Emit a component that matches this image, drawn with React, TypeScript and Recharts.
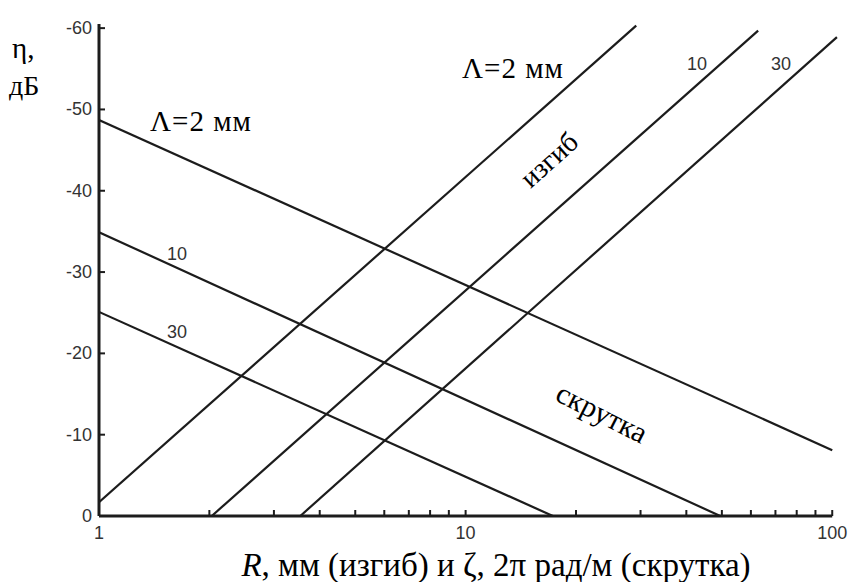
import React from "react";
import { LineChart, Line, XAxis, YAxis, ReferenceLine } from "recharts";

// Torsion (скрутка) lines: loss falls with twist rate, one per beat length Λ
const twistL2 = [{ x: 1, y: -48.7 }, { x: 100, y: -8.1 }];
const twistL10 = [{ x: 1, y: -34.9 }, { x: 49.5, y: 0 }];
const twistL30 = [{ x: 1, y: -25.1 }, { x: 17.3, y: 0 }];

// Bend (изгиб) lines: loss rises with bend radius
const bendL2 = [{ x: 1, y: -1.7 }, { x: 29.2, y: -60.3 }];
const bendL10 = [{ x: 2.03, y: 0 }, { x: 62.8, y: -59.7 }];
const bendL30 = [{ x: 3.54, y: 0 }, { x: 103, y: -58.9 }];

const X_TICKS = [1, 2, 3, 4, 5, 6, 7, 8, 9, 10, 20, 30, 40, 50, 60, 70, 80, 90, 100];
const X_LABELED = [1, 10, 100];
const Y_TICKS = [0, -10, -20, -30, -40, -50, -60];

const INK = "#1c1c1c";
const TICK_FONT = "'Liberation Sans', 'DejaVu Sans', sans-serif";
const SERIF = "'Liberation Serif', 'DejaVu Serif', serif";

function YTick({ x, y, payload }: any) {
  return (
    <g>
      <line x1={x} x2={x + 6} y1={y} y2={y} stroke={INK} strokeWidth={2} />
      <text x={x - 7} y={y} textAnchor="end" dominantBaseline="central" fontFamily={TICK_FONT} fontSize={18} fill="#333">
        {payload.value}
      </text>
    </g>
  );
}

function XTick({ x, y, payload }: any) {
  const labeled = X_LABELED.includes(payload.value);
  return (
    <g>
      <line x1={x} x2={x} y1={y} y2={y - 6} stroke={INK} strokeWidth={2} />
      {labeled && (
        <text x={x} y={y + 23} textAnchor="middle" fontFamily={TICK_FONT} fontSize={18} fill="#333">
          {payload.value}
        </text>
      )}
    </g>
  );
}

const lineProps = {
  type: "linear" as const,
  dataKey: "y",
  stroke: INK,
  strokeWidth: 2.2,
  dot: false,
  activeDot: false,
  isAnimationActive: false,
};

function Txt({ left, top, size, children, rotate = 0, style = {} }: any) {
  return (
    <div
      style={{
        position: "absolute",
        left,
        top,
        fontFamily: SERIF,
        fontSize: size,
        lineHeight: 1,
        whiteSpace: "nowrap",
        color: "#000",
        transform: rotate ? `rotate(${rotate}deg)` : undefined,
        transformOrigin: "center",
        ...style,
      }}
    >
      {children}
    </div>
  );
}

function SmallTxt({ left, top, children }: any) {
  return (
    <div style={{ position: "absolute", left, top, fontFamily: TICK_FONT, fontSize: 18, lineHeight: 1, color: "#333" }}>
      {children}
    </div>
  );
}

export default function App() {
  return (
    <div style={{ position: "absolute", left: 0, top: 0, width: 850, height: 582, background: "#fff", overflow: "hidden" }}>
      <LineChart width={850} height={582} margin={{ top: 20, right: 10, bottom: 36, left: 0 }}>
        <XAxis
          type="number"
          dataKey="x"
          scale="log"
          domain={[1, 105]}
          ticks={X_TICKS}
          interval={0}
          allowDataOverflow
          axisLine={false}
          tickLine={false}
          tickSize={0}
          tickMargin={0}
          height={30}
          tick={<XTick />}
        />
        <YAxis
          type="number"
          domain={[-61, 0]}
          reversed
          ticks={Y_TICKS}
          interval={0}
          allowDataOverflow
          axisLine={false}
          tickLine={false}
          tickSize={0}
          tickMargin={0}
          width={99}
          tick={<YTick />}
        />
        <ReferenceLine segment={[{ x: 1, y: 0 }, { x: 100, y: 0 }]} stroke={INK} strokeWidth={3} ifOverflow="visible" />
        <ReferenceLine segment={[{ x: 1, y: 0 }, { x: 1, y: -60.5 }]} stroke={INK} strokeWidth={3} ifOverflow="visible" />
        <Line {...lineProps} data={twistL2} name="скрутка Λ=2" />
        <Line {...lineProps} data={twistL10} name="скрутка Λ=10" />
        <Line {...lineProps} data={twistL30} name="скрутка Λ=30" />
        <Line {...lineProps} data={bendL2} name="изгиб Λ=2" />
        <Line {...lineProps} data={bendL10} name="изгиб Λ=10" />
        <Line {...lineProps} data={bendL30} name="изгиб Λ=30" />
      </LineChart>

      <Txt left={12} top={34} size={29}>η,</Txt>
      <Txt left={9} top={72} size={28}>дБ</Txt>
      <Txt left={150} top={107} size={29} style={{ letterSpacing: 1 }}>Λ=2 мм</Txt>
      <Txt left={462} top={54} size={29} style={{ letterSpacing: 1 }}>Λ=2 мм</Txt>
      <Txt left={516} top={146} size={28} rotate={-42}>изгиб</Txt>
      <Txt left={553} top={398} size={30} rotate={27}>скрутка</Txt>
      <SmallTxt left={167} top={245}>10</SmallTxt>
      <SmallTxt left={167} top={323}>30</SmallTxt>
      <SmallTxt left={687} top={55}>10</SmallTxt>
      <SmallTxt left={771} top={55}>30</SmallTxt>
      <div
        style={{
          position: "absolute",
          left: 0,
          width: 992,
          top: 549,
          textAlign: "center",
          fontFamily: SERIF,
          fontSize: 33,
          lineHeight: 1,
          whiteSpace: "nowrap",
          color: "#000",
        }}
      >
        <i>R</i>, мм (изгиб) и ζ, 2π рад/м (скрутка)
      </div>
    </div>
  );
}
